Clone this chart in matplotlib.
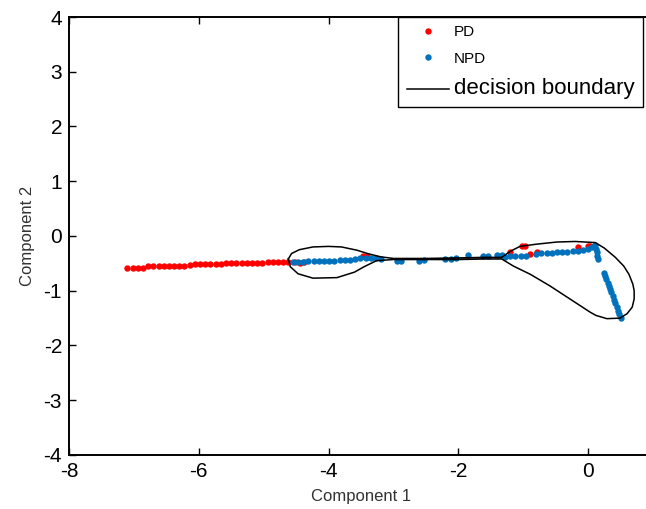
import matplotlib
matplotlib.use('Agg')
import matplotlib.pyplot as plt

plt.rcParams['font.family'] = ['Liberation Sans', 'DejaVu Sans']
plt.rcParams['axes.unicode_minus'] = False

# ---- data ----
# PD samples (red)
pd_x = [-7.10, -7.02, -6.94, -6.86, -6.78, -6.70, -6.62, -6.54, -6.46, -6.38,
        -6.30, -6.22, -6.14, -6.06, -5.98, -5.90, -5.82, -5.74, -5.66, -5.58,
        -5.50, -5.42, -5.34, -5.26, -5.18, -5.10, -5.02, -4.94, -4.86, -4.78,
        -4.70, -4.62, -4.52, -4.44, -4.38, -3.47, -3.40, -1.20, -1.02, -0.98,
        -0.89, -0.79, -0.15, 0.00, 0.03]
pd_y = [-0.59, -0.59, -0.59, -0.58, -0.55, -0.55, -0.55, -0.55, -0.55, -0.55,
        -0.54, -0.54, -0.53, -0.52, -0.52, -0.52, -0.52, -0.51, -0.51, -0.50,
        -0.50, -0.50, -0.50, -0.50, -0.50, -0.50, -0.50, -0.48, -0.47, -0.47,
        -0.47, -0.47, -0.47, -0.49, -0.48, -0.36, -0.37, -0.30, -0.18, -0.18,
        -0.33, -0.30, -0.21, -0.18, -0.18]

# NPD samples (blue)
npd_x = [-4.55, -4.47, -4.39, -4.31, -4.23, -4.15, -4.07, -3.99, -3.91, -3.83,
         -3.75, -3.67, -3.59, -3.51, -3.43, -3.35, -3.27, -3.19,
         -2.95, -2.88, -2.60, -2.53, -2.20, -2.12, -2.04, -1.85, -1.62, -1.55,
         -1.40, -1.33,
         -1.28, -1.20, -1.12, -1.04, -0.96, -0.80, -0.72, -0.64, -0.56, -0.48,
         -0.40, -0.32, -0.24, -0.16, -0.08, 0.00, 0.06, 0.11,
         0.12, 0.13, 0.14, 0.15,
         0.24, 0.26, 0.28, 0.30, 0.32, 0.34, 0.36, 0.38, 0.40, 0.42,
         0.44, 0.46, 0.48, 0.50]
npd_y = [-0.47, -0.47, -0.47, -0.46, -0.46, -0.46, -0.45, -0.45, -0.45, -0.44,
         -0.44, -0.43, -0.42, -0.41, -0.40, -0.40, -0.41, -0.42,
         -0.45, -0.45, -0.45, -0.44, -0.42, -0.42, -0.41, -0.35, -0.36, -0.37,
         -0.34, -0.35,
         -0.38, -0.36, -0.36, -0.37, -0.36, -0.32, -0.31, -0.31, -0.31, -0.30,
         -0.30, -0.29, -0.28, -0.27, -0.25, -0.23, -0.20, -0.16,
         -0.24, -0.30, -0.36, -0.42,
         -0.67, -0.73, -0.79, -0.85, -0.91, -0.97, -1.03, -1.09, -1.16, -1.23,
         -1.30, -1.37, -1.43, -1.50]

# decision boundary (closed curve)
boundary_x = [-4.62, -4.57, -4.45, -4.24, -4.00, -3.80, -3.56, -3.40, -3.20, -3.00,
              -2.50, -2.00, -1.60, -1.33, -1.20, -1.05, -0.80, -0.48, -0.20, 0.11,
              0.25, 0.42, 0.55, 0.63, 0.69, 0.71, 0.71, 0.68, 0.60, 0.49,
              0.29, 0.12, 0.03, -0.28, -0.59, -0.89, -1.15, -1.33, -1.60, -2.00,
              -2.50, -3.00, -3.26, -3.45, -3.60, -3.87, -4.24, -4.47, -4.59, -4.62]
boundary_y = [-0.42, -0.32, -0.25, -0.20, -0.19, -0.20, -0.26, -0.32, -0.38, -0.41,
              -0.41, -0.40, -0.39, -0.39, -0.28, -0.19, -0.15, -0.11, -0.10, -0.12,
              -0.22, -0.39, -0.55, -0.70, -0.88, -1.00, -1.15, -1.30, -1.42, -1.50,
              -1.51, -1.45, -1.39, -1.15, -0.91, -0.70, -0.55, -0.42, -0.42, -0.43,
              -0.43, -0.43, -0.45, -0.56, -0.66, -0.76, -0.77, -0.69, -0.56, -0.42]

x_ticks = [-8, -6, -4, -2, 0]
y_ticks = [-4, -3, -2, -1, 0, 1, 2, 3, 4]

# ---- plot ----
fig = plt.figure(figsize=(6.46, 5.09), dpi=100)
ax = fig.add_axes([0.1068, 0.1061, 0.904, 0.8605])

pd_line, = ax.plot(pd_x, pd_y, 'o', color='#FF0000', markersize=4.6,
                   markeredgewidth=0, label='PD')
npd_line, = ax.plot(npd_x, npd_y, 'o', color='#0072BD', markersize=4.6,
                    markeredgewidth=0, label='NPD')
bnd_line, = ax.plot(boundary_x, boundary_y, '-', color='black', lw=1.1,
                    label='decision boundary')

ax.set_xlim(-8, 1)
ax.set_ylim(-4, 4)
ax.set_xticks(x_ticks)
ax.set_yticks(y_ticks)
ax.tick_params(direction='in', length=5, width=1, labelsize=15, pad=5,
               top=True, right=True)
for s in ax.spines.values():
    s.set_linewidth(1.4)

ax.set_xlabel('Component 1', fontsize=12, color='#333333', labelpad=6)
ax.set_ylabel('Component 2', fontsize=12, color='#333333', labelpad=6)

leg = ax.legend(handles=[pd_line, npd_line, bnd_line], loc='upper right',
                bbox_to_anchor=(643 / 646, 1 - 17 / 509),
                bbox_transform=fig.transFigure, borderaxespad=0,
                fancybox=False, edgecolor='black', framealpha=1, numpoints=1,
                fontsize=11, handlelength=2.8, handletextpad=0.3,
                labelspacing=0.8, borderpad=0.55)
leg.get_frame().set_linewidth(1.0)
leg.get_texts()[2].set_fontsize(16)

fig.savefig('out.png', dpi=100)
